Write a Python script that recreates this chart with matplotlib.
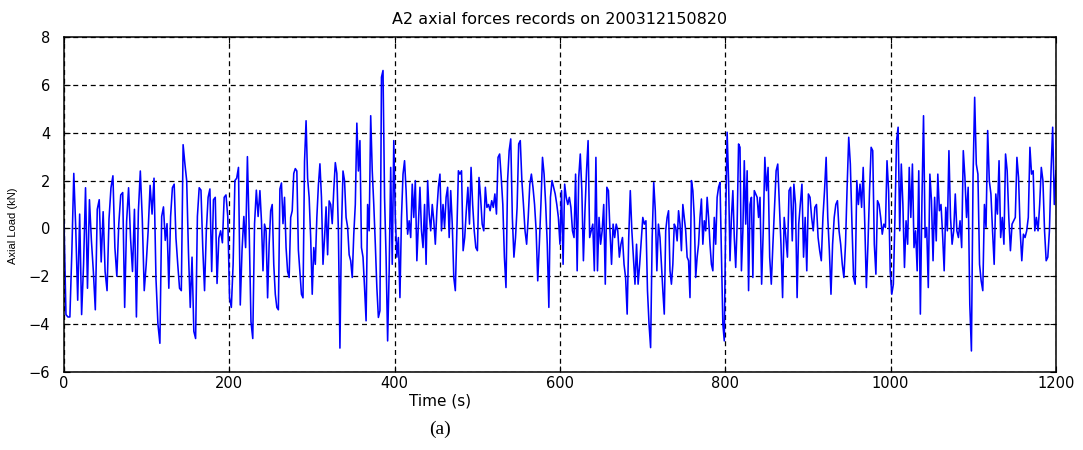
import numpy as np
import matplotlib
matplotlib.use("Agg")
import matplotlib.pyplot as plt

# axial load samples (kN), one list per time block
seg_edges = [0, 116, 237, 358, 479, 600, 721, 842, 963, 1084, 1200]

load_01 = [0.3, -3.6, -3.7, -3.7, -1.0, 2.3, 0.0, -3.0, 0.6, -3.6, -1.5, 1.7, -2.5, 1.2, -0.5, -1.8,
           -3.4, 0.8, 1.2, -1.4, 0.7, -1.8, -2.6, 0.4, 1.7, 2.2, -0.8, -2.0, 0.2, 1.4, 1.5, -3.3,
           0.3, 1.7, -0.4, -1.8, 0.8, -3.7, 0.7, 2.4, 0.4, -2.6, -1.5, -0.1, 1.8, 0.6, 2.1, -2.1,
           -4.0]
load_02 = [-4.8, 0.5, 0.9, -0.5, 0.2, -2.5, 0.5, 1.7, 1.85, -0.4, -1.5, -2.5, -2.6, 3.5, 2.7, 2.0,
           -1.0, -3.3, -1.2, -4.3, -4.6, 0.5, 1.7, 1.6, -0.8, -2.6, -0.1, 1.3, 1.65, -1.8, 1.2, 1.3,
           -2.3, -0.4, -0.1, -0.6, 1.3, 1.4, 0.5, -2.9, -3.3, -1.5, 2.0, 2.1, 2.55, -3.2, -0.9, 0.5,
           -0.8, 3.0, -0.1, -3.9, -4.6, 0.2, 1.6, 0.5]
load_03 = [1.58, 0.32, -1.77, 0.18, -0.1, -2.9, -0.66, 0.74, 1.0, -1.5, -2.75, -3.3, -3.4, 1.65, 1.9,
           0.2, 1.3, -0.8, -1.8, -2.05, 0.46, 0.74, 2.3, 2.5, 2.4, -0.9, -1.8, -2.75, -2.9, 2.8, 4.5,
           2.1, 1.3, -0.4, -2.75, -0.8, -1.5, 0.46, 1.8, 2.7, 1.3, -1.5, -0.4, 0.9, -1.1, 1.15, 1.0,
           0.2, 1.6, 2.75, 2.3, -0.1, -5.0, -0.1, 2.4, 2.0, 0.46, 0.05, -1.1, -1.35, -2.05, -0.25,
           1.0, 4.4, 2.4]
load_04 = [3.67, -0.8, -1.2, -2.47, -3.86, 1.0, -0.1, 4.71, 2.41, 1.0, -0.66, -2.47, -3.72, -3.44,
           6.32, 6.6, 1.3, -1.2, -4.7, -1.77, 2.55, -1.5, 3.67, 0.46, -1.2, -0.38, -2.89, 0.46, 2.27,
           2.83, 1.58, -0.24, 0.32, -0.38, 1.85, 0.46, 2.0, -1.35, 0.18, 1.72, -0.1, -0.8, 1.0, -1.5,
           2.0, 0.6, -0.1, 1.0, 0.32, -0.66, 0.74, 1.72, 2.27, -0.1, 1.0, 0.04, 1.3, 1.72, -0.38,
           1.58, 0.18, -2.05, -2.6, -0.1, 2.41]
load_05 = [2.27, 2.41, -0.93, -0.38, 0.74, 1.72, 0.18, 2.55, 1.0, -0.1, -0.8, -0.93, 2.13, 1.3, 0.18,
           -0.1, 1.72, 0.88, 1.0, 0.74, 1.16, 0.88, 1.44, 0.6, 2.97, 3.11, 2.13, 1.0, -1.2, -2.47,
           2.0, 3.25, 3.74, 0.46, -1.2, -0.38, 0.88, 3.53, 3.67, 2.0, 1.0, -0.1, -0.66, 0.46, 1.85,
           2.27, 1.72, 1.0, -0.1, -2.19, -0.66, 1.0, 2.97, 2.27, 1.0, -0.66, -3.3, 1.3, 2.0, 1.72,
           1.44, 1.0, 0.46]
load_06 = [-0.66, 1.58, -1.5, 1.85, 1.3, 1.0, 1.3, 0.88, -0.1, -0.38, 2.27, -1.77, 2.13, 3.11, 1.58,
           -1.35, 0.74, 2.41, 3.67, -0.38, -0.1, 0.18, -1.77, 2.97, -1.77, 0.46, -0.66, -0.1, 1.0,
           -2.33, 1.72, 1.58, -0.1, -1.5, 0.18, -0.38, 0.18, -0.1, -1.2, -0.66, -0.38, -1.5, -2.05,
           -3.58, -0.38, 1.58, -0.1, -1.2, -2.33, -0.66, -2.33, -1.5, -0.52, 0.46, 0.18, 0.32, -2.6,
           -4.0, -4.98, -0.38, 1.92, 0.74, -1.77, 0.18]
load_07 = [-0.38, -1.5, -2.6, -3.58, -0.1, 0.46, 0.74, -1.77, -2.33, -1.5, 0.18, 0.04, -0.52, 0.74,
           0.18, -0.93, 1.0, 0.46, -0.1, -1.2, -1.35, -2.89, 2.0, 1.58, 0.46, -2.05, -1.2, -0.66,
           0.46, 1.23, -0.66, 0.32, -0.1, 1.3, 0.46, -0.66, -1.5, -1.77, 0.46, -0.66, 1.3, 1.72,
           1.92, -0.93, -4.0, -4.7, 0.46, 4.02, 2.0, -1.35, 0.46, 1.58, -0.38, -1.63, 0.18, 3.53,
           3.39, -1.77, -0.1, 2.83, 0.18, 2.41, -2.6, 1.0, 1.3, -2.05, 1.58, 1.44, 1.3, 0.46]
load_08 = [1.3, -2.33, -0.1, 2.97, 1.58, 2.55, -1.2, -2.33, -0.66, 0.88, 2.41, 2.69, 1.0, -0.66,
           -2.89, 0.46, -0.38, -1.2, 1.58, 1.72, -0.52, 1.85, 1.0, -2.89, 0.18, 1.0, 1.85, -1.2, 0.46,
           -1.77, 1.44, 1.3, 0.46, -0.1, 0.88, 1.0, -0.38, -0.93, -1.35, 0.46, 1.58, 2.97, 0.46,
           -0.93, -2.75, -0.66, 0.46, 1.0, 1.16, -0.1, -0.66, -1.5, -2.05, -0.66, 1.72, 3.81, 2.69,
           0.18, -2.05, -2.33, 2.0, 1.0]
load_09 = [1.85, 0.88, 2.55, 0.18, -2.47, -0.66, 1.58, 3.39, 3.25, -0.66, -1.91, 1.16, 1.0, 0.46,
           -0.24, 0.18, 0.04, 2.83, 1.58, -1.77, -2.75, -2.33, 0.46, 3.67, 4.23, -0.1, 2.69, 1.0,
           -1.63, 0.32, -0.66, 2.55, 0.46, 2.69, -0.8, -0.1, -1.77, 2.41, -3.58, 1.16, 4.71, -0.38,
           0.04, -2.47, 2.27, 1.16, -1.35, 1.3, -0.52, 2.27, 0.74, 1.0, -0.24, -1.77, 0.88, -0.1,
           3.25, 0.46, -0.66, -0.1, 1.44, -0.1, -0.38]
load_10 = [0.32, -0.8, 3.25, 2.13, 0.46, 1.72, -3.17, -5.12, 2.13, 5.48, 2.69, 2.27, -1.5, -2.19,
           -2.6, 1.0, 0.04, 4.09, 2.0, 1.44, -0.1, -1.5, 1.44, 0.6, 2.83, -0.38, 0.46, -0.66, 3.11,
           2.41, 0.46, -0.93, 0.18, 0.32, 0.46, 2.97, 2.13, -0.1, -1.35, -0.24, -0.38, -0.1, 0.46,
           3.39, 2.27, 2.41, -0.1, 0.46, -0.1, 1.0, 2.55, 2.0, -0.1, -1.35, -1.2, -0.1, 2.41, 4.23,
           1.0, 2.41]

blocks = [load_01, load_02, load_03, load_04, load_05, load_06, load_07, load_08, load_09, load_10]

# spread each block's samples evenly over its time span
time_s = []
for k, blk in enumerate(blocks):
    last = k == len(blocks) - 1
    time_s.append(np.linspace(seg_edges[k], seg_edges[k + 1], len(blk), endpoint=last))
time_s = np.concatenate(time_s)
load_kn = np.concatenate([np.array(b) for b in blocks])

plt.rcParams['font.family'] = ['DejaVu Sans']

fig = plt.figure(figsize=(10.83, 4.5), dpi=100)
ax = fig.add_axes([0.0591, 0.1733, 0.9159, 0.7445])

ax.plot(time_s, load_kn, color='#0000ff', linewidth=1.15)

ax.set_xlim(0, 1200)
ax.set_ylim(-6, 8)
ax.set_xticks(np.arange(0, 1201, 200))
ax.set_yticks(np.arange(-6, 9, 2))
ax.grid(True, color='black', linestyle=(0, (4, 3)), linewidth=0.9)
ax.tick_params(direction='in', length=4, top=True, right=True, labelsize=10.5)
ax.tick_params(axis='y', pad=10)
ax.tick_params(axis='x', pad=3)
for sp in ax.spines.values():
    sp.set_linewidth(1.1)

ax.set_title('A2 axial forces records on 200312150820', fontsize=11.5, pad=9)
ax.set_xlabel('Time (s)', fontsize=11)
ax.xaxis.set_label_coords((440 - 64) / 992, -0.065)
ax.set_ylabel('Axial Load (kN)', fontsize=8, family='Liberation Sans')
ax.yaxis.set_label_coords(-0.046, 0.436)

fig.text(0.406, 0.027, '(a)', family='Liberation Serif', fontsize=14, ha='center', va='bottom')

fig.savefig('out.png', dpi=100)
